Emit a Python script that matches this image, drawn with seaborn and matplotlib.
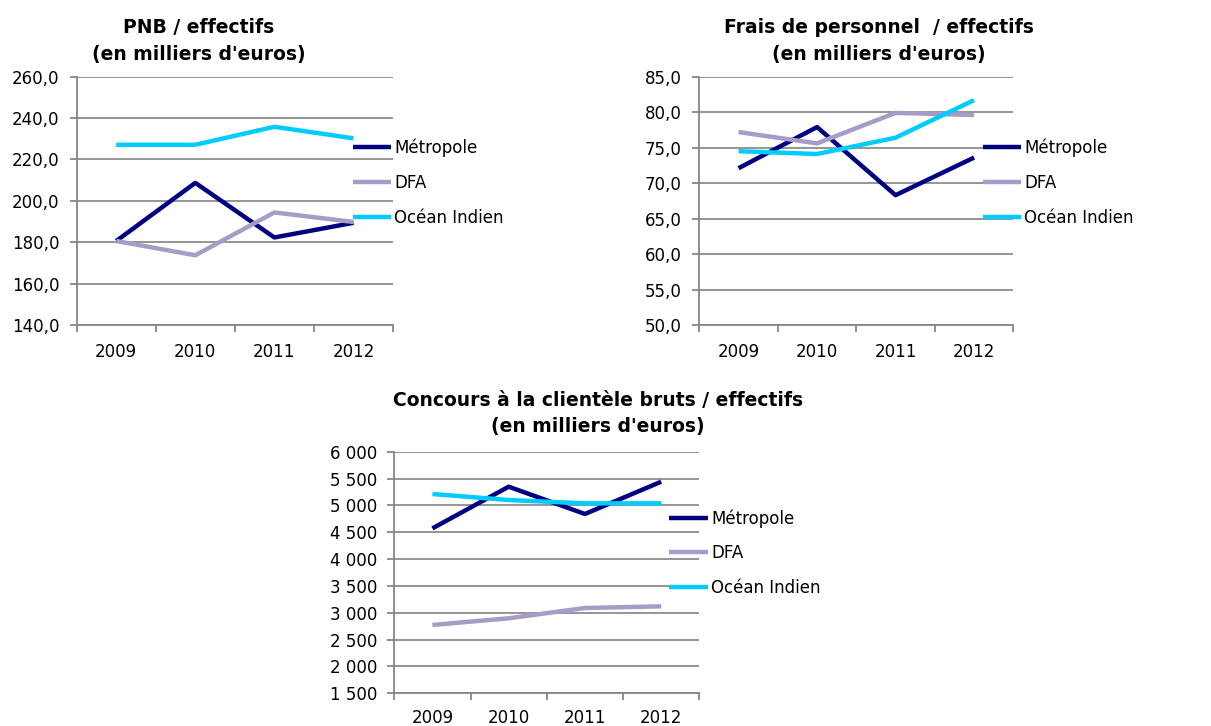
import matplotlib
matplotlib.use("Agg")
import matplotlib.pyplot as plt
import matplotlib.ticker as mticker
import seaborn as sns
import pandas as pd

years = ["2009", "2010", "2011", "2012"]
series_names = ["Métropole", "DFA", "Océan Indien"]

pnb_metropole = [180.6, 208.7, 182.3, 189.4]
pnb_dfa = [180.6, 173.7, 194.4, 189.8]
pnb_oi = [227.1, 227.1, 235.8, 230.2]

frais_metropole = [72.1, 77.9, 68.3, 73.6]
frais_dfa = [77.2, 75.6, 79.9, 79.6]
frais_oi = [74.5, 74.1, 76.4, 81.7]

concours_metropole = [4572, 5348, 4840, 5441]
concours_dfa = [2773, 2897, 3089, 3120]
concours_oi = [5212, 5100, 5038, 5038]

title1 = ["PNB / effectifs", "(en milliers d'euros)"]
title2 = ["Frais de personnel  / effectifs", "(en milliers d'euros)"]
title3 = ["Concours à la clientèle bruts / effectifs", "(en milliers d'euros)"]

colors = ["#000080", "#a99bc8", "#00ccff"]

sns.set_style("white")
plt.rcParams["font.family"] = ["DejaVu Sans"]
plt.rcParams["text.color"] = "black"
plt.rcParams["xtick.color"] = "#868686"
plt.rcParams["ytick.color"] = "#868686"
plt.rcParams["xtick.labelcolor"] = "black"
plt.rcParams["ytick.labelcolor"] = "black"

W, H = 1211, 726
fig = plt.figure(figsize=(W / 100, H / 100), dpi=100)


def ax_rect(x0, y0, x1, y1):
    return [x0 / W, 1 - y1 / H, (x1 - x0) / W, (y1 - y0) / H]


def make_df(vals):
    rows = []
    for name, v in zip(series_names, vals):
        for yr, val in zip(years, v):
            rows.append({"Année": yr, "Valeur": val, "Série": name})
    return pd.DataFrame(rows)


def fmt_dec(v, pos):
    return f"{v:.1f}".replace(".", ",")


def fmt_thou(v, pos):
    return f"{int(round(v)):,}".replace(",", " ")


FS = 12


def draw(rect, vals, ylim, ystep, fmt, title, tcx, tby, leg_x, leg_y, xpad=13):
    ax = fig.add_axes(ax_rect(*rect))
    df = make_df(vals)
    sns.lineplot(data=df, x="Année", y="Valeur", hue="Série", hue_order=series_names,
                 palette=colors, linewidth=3.2, ax=ax, sort=False)
    ax.set_xlim(-0.5, 3.5)
    ax.set_ylim(*ylim)
    ax.yaxis.set_major_locator(mticker.MultipleLocator(ystep))
    ax.yaxis.set_major_formatter(mticker.FuncFormatter(fmt))
    ax.set_xticks(range(len(years)))
    ax.set_xticklabels(years)
    ax.set_xticks([-0.5, 0.5, 1.5, 2.5, 3.5], minor=True)
    ax.tick_params(axis="x", which="major", bottom=True, length=0, pad=xpad, labelsize=FS,
                   labelcolor="black")
    ax.tick_params(axis="x", which="minor", bottom=True, length=5, width=1.3,
                   color="#868686", direction="out")
    ax.tick_params(axis="y", which="major", left=True, length=5, width=1.3, color="#868686",
                   pad=7.5, labelsize=FS, labelcolor="black", direction="out")
    ax.yaxis.grid(True, color="#8c8c8c", linewidth=1.3)
    ax.xaxis.grid(False)
    for s in ["top", "right"]:
        ax.spines[s].set_visible(False)
    for s in ["left", "bottom"]:
        ax.spines[s].set_color("#868686")
        ax.spines[s].set_linewidth(1.3)
    ax.set_xlabel("")
    ax.set_ylabel("")
    ax.set_axisbelow(True)
    for line in ax.get_lines():
        line.set_solid_capstyle("butt")
    handles, labels = ax.get_legend_handles_labels()
    for h in handles:
        h.set_linewidth(3.2)
    leg = ax.legend(handles, labels, loc="center left",
                    bbox_to_anchor=(leg_x / W, 1 - leg_y / H), bbox_transform=fig.transFigure,
                    frameon=False, fontsize=FS, handlelength=2.3, handletextpad=0.2,
                    labelspacing=1.0, borderpad=0, borderaxespad=0)
    for t in leg.get_texts():
        t.set_color("black")
    fig.text(tcx / W, 1 - tby[0] / H, title[0], ha="center", va="baseline",
             fontsize=13.5, fontweight="bold", color="black")
    fig.text(tcx / W, 1 - tby[1] / H, title[1], ha="center", va="baseline",
             fontsize=13.5, fontweight="bold", color="black")
    return ax


draw((76.7, 76.7, 393, 325), [pnb_metropole, pnb_dfa, pnb_oi], (140, 260), 20, fmt_dec,
     title1, 199, (33, 60), 352.7, 182.7)
draw((699.3, 76.7, 1013.3, 325), [frais_metropole, frais_dfa, frais_oi], (50, 85), 5, fmt_dec,
     title2, 879, (33, 60), 982.7, 182.7)
draw((394.3, 451.7, 699.3, 693.3), [concours_metropole, concours_dfa, concours_oi], (1500, 6000), 500,
     fmt_thou, title3, 598, (406, 431.7), 669.3, 553.0, xpad=11)

fig.savefig("out.png", dpi=100)
